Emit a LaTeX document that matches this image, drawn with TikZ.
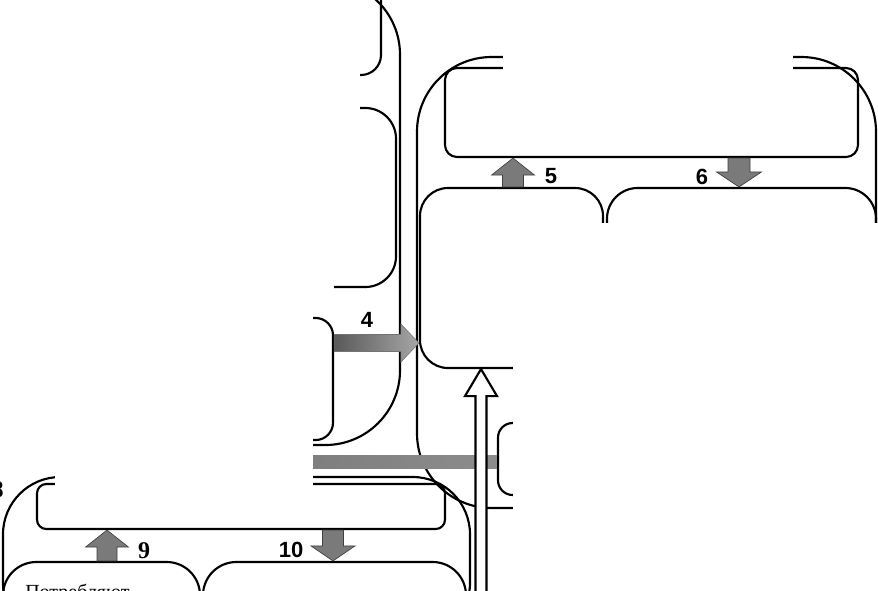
\documentclass[tikz,border=0pt]{standalone}
\usepackage{fontspec}
\setmainfont{Liberation Serif}
\setsansfont{Liberation Sans}
\usetikzlibrary{calc,fit}

\begin{document}
\begin{tikzpicture}[
  x=0.75pt,
  y=-0.75pt,
  frame/.style={draw=black, line width=1.6pt, inner sep=0pt},
  blockarrow/.style={draw=black!75, line width=0.5pt, fill=black!52},
  hollow/.style={draw=black, line width=1.6pt, fill=white},
  blank/.style={fill=white},
  num/.style={font=\sffamily\bfseries\fontsize{16.5}{18}\selectfont, inner sep=0pt},
  numserif/.style={font=\rmfamily\bfseries\fontsize{18}{20}\selectfont, inner sep=0pt},
  bodytext/.style={font=\rmfamily\fontsize{15}{18}\selectfont, inner sep=0pt}
]
\useasboundingbox (0,0) rectangle (878,590);
\clip (0,0) rectangle (878,590);

% Left column of boxes.
\node[frame, rounded corners=56pt, fit={(150,-20) (400,445)}] (lout) {};
\node[frame, rounded corners=15pt, fit={(150,-20) (381,75)}] (lbox1) {};
\node[frame, rounded corners=23pt, fit={(150,108) (396,287)}] (lbox2) {};
\node[frame, rounded corners=13pt, fit={(150,318) (333,440)}] (src4) {};

% Right group: header, two inner boxes and a small box below.
\node[frame, rounded corners=56pt, fit={(417,57) (876,508)}] (rout) {};
\node[frame, rounded corners=9pt, fit={(445,68) (858,157)}] (rhdr) {};
\node[frame, rounded corners=21pt, fit={(420,188) (603,368)}] (potr) {};
\node[frame, rounded corners=23pt, fit={(607,188) (876,368)}] (vyz) {};
\node[frame, rounded corners=11pt, fit={(498,423) (700,495)}] (rsm) {};

% Lower-left group.
\node[frame, rounded corners=43pt, fit={(3,477) (470,640)}] (bout) {};
\node[frame, rounded corners=7pt, fit={(37,484) (445,529)}] (bhdr) {};
\node[frame, rounded corners=25pt, fit={(3,562) (200,650)}] (bbox1) {};
\node[frame, rounded corners=25pt, fit={(203,562) (466,650)}] (bbox2) {};

% Grey bar into the small box.
\coordinate (barL) at (150,455);
\coordinate (barR) at (rsm.west |- 0,468);
\shade[left color=black!55, right color=black!45] (barL) rectangle (barR);

% Arrow 4, left column to the right group.
\coordinate (a4) at (src4.east |- 0,343);
\coordinate (t4) at (a4 -| potr.west);
\shadedraw[left color=black!65, right color=black!35, draw=black!55, line width=0.4pt]
  ($(a4)+(0,-8.5)$) -- ($(t4)+(-18,-8.5)$) -- ($(t4)+(-18,-19)$) -- (t4)
  -- ($(t4)+(-18,19)$) -- ($(t4)+(-18,8.5)$) -- ($(a4)+(0,8.5)$) -- cycle;

% Arrows 5 and 6 between the header and the inner boxes.
\coordinate (b5) at (potr.north -| 513,0);
\coordinate (t5) at (rhdr.south -| b5);
\draw[blockarrow] ($(b5)+(-10.5,0)$) -- ($(t5)+(-10.5,17)$) -- ($(t5)+(-21.5,17)$)
  -- (t5) -- ($(t5)+(21.5,17)$) -- ($(t5)+(10.5,17)$) -- ($(b5)+(10.5,0)$) -- cycle;
\coordinate (b6) at (rhdr.south -| 739,0);
\coordinate (t6) at (vyz.north -| b6);
\draw[blockarrow] ($(b6)+(-11,0)$) -- ($(t6)+(-11,-15)$) -- ($(t6)+(-22.5,-15)$)
  -- (t6) -- ($(t6)+(22.5,-15)$) -- ($(t6)+(11,-15)$) -- ($(b6)+(11,0)$) -- cycle;

% Arrows 9 and 10 in the lower group.
\coordinate (b9) at (bbox1.north -| 107,0);
\coordinate (t9) at (bhdr.south -| b9);
\draw[blockarrow] ($(b9)+(-10,0)$) -- ($(t9)+(-10,17)$) -- ($(t9)+(-21.5,17)$)
  -- (t9) -- ($(t9)+(21.5,17)$) -- ($(t9)+(10,17)$) -- ($(b9)+(10,0)$) -- cycle;
\coordinate (b10) at (bhdr.south -| 333,0);
\coordinate (t10) at (bbox2.north -| b10);
\draw[blockarrow] ($(b10)+(-10.5,0)$) -- ($(t10)+(-10.5,-15)$) -- ($(t10)+(-22,-15)$)
  -- (t10) -- ($(t10)+(22,-15)$) -- ($(t10)+(10.5,-15)$) -- ($(b10)+(10.5,0)$) -- cycle;

% Hollow arrow rising from below into the inner box.
\coordinate (b11) at (481,600);
\coordinate (t11) at (potr.south -| b11);
\draw[hollow] ($(b11)+(-5.5,0)$) -- ($(t11)+(-5.5,27)$) -- ($(t11)+(-16,27)$)
  -- (t11) -- ($(t11)+(16,27)$) -- ($(t11)+(5.5,27)$) -- ($(b11)+(5.5,0)$) -- cycle;

% Areas left blank in the picture.
\fill[blank] (0,0) rectangle (360,180);
\fill[blank] (0,180) rectangle (334,300);
\fill[blank] (0,300) rectangle (313,476);
\fill[blank] (55,470) rectangle (313,502);
\fill[blank] (503,0) rectangle (793,80);
\fill[blank] (513,223) rectangle (878,590);

% Numbers and the visible text.
\node[num] (n4) at (367,320) {4};
\node[num] (n5) at (551,176) {5};
\node[num] (n6) at (702,177) {6};
\node[num] (n10) at (291,550) {10};
\node[numserif] (n9) at (144,551) {9};
\node[numserif] (n8) at (-2.5,490) {8};
\node[bodytext, anchor=base west] (potrtxt) at (25,598) {Потребляют};

\end{tikzpicture}
\end{document}
